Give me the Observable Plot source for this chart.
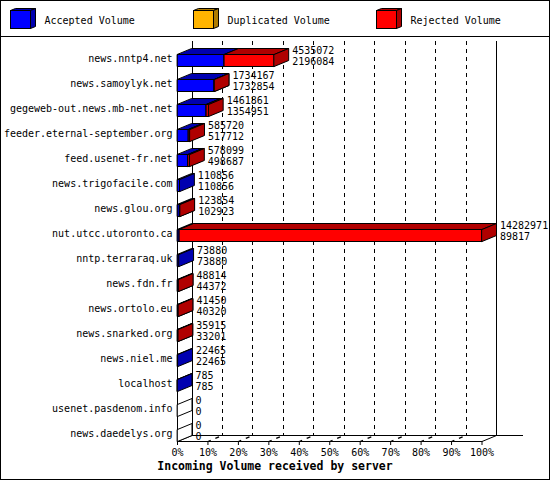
<!DOCTYPE html>
<html>
<head>
<meta charset="utf-8">
<script src="https://cdn.jsdelivr.net/npm/d3@7"></script>
<script src="https://cdn.jsdelivr.net/npm/@observablehq/plot@0.6"></script>
<style>
  body { margin: 0; background: #fff; }
  #frame { position: relative; width: 550px; height: 480px; box-sizing: border-box; border: 1px solid #000; background: #fff; font-family: "DejaVu Sans Mono", monospace; font-size: 10px; color: #000; overflow: hidden; }
  #legend { position: relative; height: 35px; border-bottom: 1px solid #000; }
  #legend .item-box { position: absolute; top: 7px; }
  #legend .item-text { position: absolute; top: 13.5px; line-height: 12px; white-space: nowrap; }
  #chart svg { display: block; }
  #caption { position: absolute; top: 458px; left: 0; width: 548px; text-align: center; font-weight: bold; font-size: 11.5px; line-height: 14px; white-space: nowrap; }
</style>
</head>
<body>
<div id="frame">
  <div id="legend"></div>
  <div id="chart"></div>
  <div id="caption">Incoming Volume received by server</div>
</div>
<script>
// ---- data ----
const servers = [
  "news.nntp4.net", "news.samoylyk.net", "gegeweb-out.news.mb-net.net",
  "feeder.eternal-september.org", "feed.usenet-fr.net", "news.trigofacile.com",
  "news.glou.org", "nut.utcc.utoronto.ca", "nntp.terraraq.uk", "news.fdn.fr",
  "news.ortolo.eu", "news.snarked.org", "news.niel.me", "localhost",
  "usenet.pasdenom.info", "news.daedelys.org"
];
const totalVolume = [4535072, 1734167, 1461861, 585720, 578099, 110856, 123854, 14282971, 73880, 48814, 41450, 35915, 22465, 785, 0, 0];
const acceptedVolume = [2196084, 1732854, 1354951, 517712, 498687, 110856, 102923, 89817, 73880, 44372, 40320, 33201, 22465, 785, 0, 0];
const duplicatedVolume = [0, 0, 0, 0, 0, 0, 0, 0, 0, 0, 0, 0, 0, 0, 0, 0];
const rejectedVolume = [2338988, 1313, 106910, 68008, 79412, 0, 20931, 14193154, 0, 4442, 1130, 2714, 0, 0, 0, 0];
const seriesNames = ["Accepted Volume", "Duplicated Volume", "Rejected Volume"];
const tickFractions = [0, 0.1, 0.2, 0.3, 0.4, 0.5, 0.6, 0.7, 0.8, 0.9, 1];
const tickLabels = ["0%", "10%", "20%", "30%", "40%", "50%", "60%", "70%", "80%", "90%", "100%"];

// ---- styles ----
const seriesColors = [
  {front: "#0000ff", dark: "#0000b0"},
  {front: "#ffb400", dark: "#b07c00"},
  {front: "#ff0000", dark: "#b00000"}
];

// ---- legend (HTML) ----
const legend = document.getElementById("legend");
const legendLeft = [9, 192, 375];
seriesNames.forEach((name, k) => {
  const c = seriesColors[k];
  const box = document.createElementNS("http://www.w3.org/2000/svg", "svg");
  box.setAttribute("width", 28); box.setAttribute("height", 22);
  box.setAttribute("class", "item-box");
  box.style.left = legendLeft[k] + "px";
  box.innerHTML =
    `<rect x="0.5" y="2.5" width="20" height="18" fill="${c.front}" stroke="#000"/>` +
    `<polygon points="0.5,2.5 5.5,0.5 25.5,0.5 20.5,2.5" fill="${c.dark}" stroke="#000"/>` +
    `<polygon points="20.5,2.5 25.5,0.5 25.5,18.5 20.5,20.5" fill="${c.dark}" stroke="#000"/>`;
  legend.appendChild(box);
  const t = document.createElement("div");
  t.className = "item-text";
  t.style.left = (legendLeft[k] + 34.5) + "px";
  t.textContent = name;
  legend.appendChild(t);
});

// ---- chart ----
const maxV = d3.max(totalVolume);
const PX = maxV / 304.5;        // value units per pixel
const D = 14.5 * PX;            // depth offset along x (value units)
const E = 0.24;                 // depth offset along y (row units)
const nRows = servers.length;

const polys = [];
let pid = 0;
function addPoly(pts, fill) {
  const id = pid++;
  pts.forEach(([x, y]) => polys.push({id, x, y, fill}));
}
servers.forEach((name, i) => {
  const yT = i + 0.52, yB = i + 1;
  const segs = [acceptedVolume[i], duplicatedVolume[i], rejectedVolume[i]];
  let s = 0, any = false;
  segs.forEach((v, k) => {
    if (!(v > 0)) return;
    any = true;
    const e = s + v, c = seriesColors[k];
    addPoly([[s, yB], [e, yB], [e, yT], [s, yT]], c.front);
    addPoly([[s, yT], [e, yT], [e + D, yT - E], [s + D, yT - E]], c.dark);
    addPoly([[e, yT], [e + D, yT - E], [e + D, yB - E], [e, yB]], c.dark);
    s = e;
  });
  if (!any) {
    addPoly([[0, yT], [D, yT - E], [D, yB - E], [0, yB]], "#ffffff");
  }
});

const rows = servers.map((name, i) => ({i, name, total: totalVolume[i], acc: acceptedVolume[i]}));
const tickValues = tickFractions.map(f => f * maxV);
const innerFracs = tickFractions.slice(1, -1);
const crisp = {stroke: "#000", strokeWidth: 1, shapeRendering: "crispEdges"};

const chart = Plot.plot({
  width: 548,
  height: 422,
  marginLeft: 176,
  marginRight: 67.5,
  marginTop: 4,
  marginBottom: 18,
  x: {domain: [0, maxV]},
  y: {domain: [0, nRows], reverse: true, axis: null},
  color: {type: "identity"},
  style: {fontFamily: "DejaVu Sans Mono", fontSize: "10px", background: "#fff", overflow: "visible", color: "#000"},
  marks: [
    // back wall verticals
    Plot.ruleX([0, maxV], {x: d => d + D, y1: 0, y2: nRows - E, ...crisp}),
    // dashed gridlines on back wall
    Plot.ruleX(innerFracs, {x: f => f * maxV + D, y1: 0, y2: nRows - E, ...crisp, strokeDasharray: "4,4"}),
    // front left edge
    Plot.ruleX([0], {y1: 0.52, y2: nRows, ...crisp}),
    // floor
    Plot.ruleY([nRows], {x1: 0, x2: maxV, ...crisp}),
    Plot.ruleY([nRows - E], {x1: D, x2: maxV + D + 27 * PX, ...crisp}),
    Plot.link([0, 1], {x1: f => f * maxV, y1: nRows, x2: f => f * maxV + D, y2: nRows - E, stroke: "#000", strokeWidth: 1}),
    Plot.link(innerFracs, {x1: f => f * maxV, y1: nRows, x2: f => f * maxV + D, y2: nRows - E, stroke: "#000", strokeWidth: 1.3, strokeDasharray: "3,5,4,20"}),
    // 3D bars
    Plot.line(polys, {x: "x", y: "y", z: "id", fill: "fill", stroke: "#000", strokeWidth: 1, curve: "linear-closed", strokeLinejoin: "miter"}),
    // server labels
    Plot.text(rows, {x: 0, y: d => d.i + 0.7, text: "name", textAnchor: "end", dx: -5, lineAnchor: "middle", fill: "#000"}),
    // value labels (total above, accepted below)
    Plot.text(rows, {x: d => d.total + D, y: d => d.i + 1, text: d => String(d.total), textAnchor: "start", dx: 3.5, dy: -12.5, lineAnchor: "bottom", fill: "#000"}),
    Plot.text(rows, {x: d => d.total + D, y: d => d.i + 1, text: d => String(d.acc), textAnchor: "start", dx: 3.5, dy: -1.5, lineAnchor: "bottom", fill: "#000"}),
    // x axis
    Plot.axisX(tickValues, {
      tickFormat: d => tickLabels[tickValues.findIndex(v => Math.abs(v - d) < 1e-6 * maxV)],
      tickSize: 4, tickPadding: 3, label: null, stroke: "#000", fill: "#000"
    })
  ]
});
document.getElementById("chart").appendChild(chart);
</script>
</body>
</html>
